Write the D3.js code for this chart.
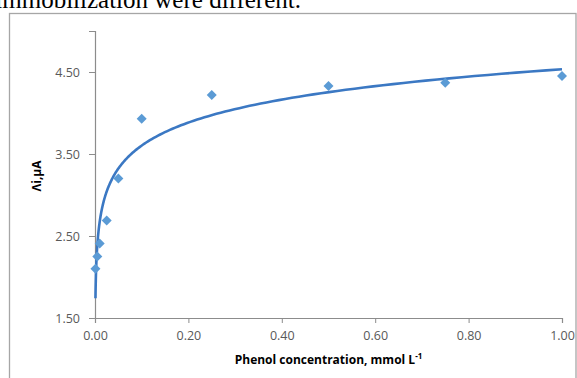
<!DOCTYPE html>
<html>
<head>
<meta charset="utf-8">
<script src="https://cdn.jsdelivr.net/npm/d3@7"></script>
<style>
  body { margin: 0; background: #fff; }
  svg { display: block; }
  .tick text { font-family: "Open Sans", sans-serif; font-size: 12.5px; fill: #595959; }
</style>
</head>
<body>
<div class="chart"></div>
<script>
const svgWidth = 577
const svgHeight = 378

// concentration (mmol L-1) and response (uA)
const concentration = [0.001, 0.005, 0.01, 0.025, 0.05, 0.1, 0.25, 0.5, 0.75, 1.0]
const current = [2.10, 2.25, 2.41, 2.69, 3.20, 3.93, 4.22, 4.33, 4.37, 4.45]
const xTicks = [0, 0.2, 0.4, 0.6, 0.8, 1.0]
const yTicks = [1.5, 2.5, 3.5, 4.5]

let plot = { left: 95, right: 562, top: 31, bottom: 318 }

let svg = d3.select(".chart")
  .append("svg")
  .attr("width", svgWidth)
  .attr("height", svgHeight)

// cut-off line of body text above the figure
let caption = svg.append("text")
  .attr("y", 8)
  .attr("font-family", "Liberation Serif, serif")
  .attr("font-size", 25)
  .attr("fill", "#000")
  .text("immobilization were different.")
caption.attr("x", 301 - caption.node().getComputedTextLength())

// chart frame
svg.append("rect")
  .attr("x", 9.5)
  .attr("y", 13.5)
  .attr("width", 566.5)
  .attr("height", 400)
  .attr("fill", "none")
  .attr("stroke", "#a6a6a6")
  .attr("stroke-width", 1.3)

let x = d3.scaleLinear().domain([0, 1]).range([plot.left, plot.right])
let y = d3.scaleLinear().domain([1.5, 5]).range([plot.bottom, plot.top])

let xAxis = svg.append("g")
  .attr("transform", `translate(0, ${plot.bottom})`)
  .call(d3.axisBottom(x).tickValues(xTicks).tickFormat(d3.format(".2f")).tickSize(5).tickPadding(8))

let yAxis = svg.append("g")
  .attr("transform", `translate(${plot.left}, 0)`)
  .call(d3.axisLeft(y).tickValues(yTicks).tickFormat(d3.format(".2f")).tickSize(6).tickPadding(9))

svg.selectAll(".domain").attr("stroke", "#8c8c8c").attr("stroke-width", 1.2)
svg.selectAll(".tick line").attr("stroke", "#8c8c8c")

// logarithmic trend line, least squares fit of y = a ln(x) + b
let lx = concentration.map(Math.log)
let mx = d3.mean(lx)
let my = d3.mean(current)
let a = d3.sum(lx, (v, i) => (v - mx) * (current[i] - my)) / d3.sum(lx, v => (v - mx) * (v - mx))
let b = my - a * mx
let trend = d3.range(0, 201).map(i => {
  let c = Math.exp(Math.log(concentration[0]) + i / 200 * (0 - Math.log(concentration[0])))
  return [c, a * Math.log(c) + b]
})

svg.append("path")
  .datum(trend)
  .attr("fill", "none")
  .attr("stroke", "#3b78c3")
  .attr("stroke-width", 2.6)
  .attr("d", d3.line().x(d => x(d[0])).y(d => y(d[1])))

svg.selectAll(".pt")
  .data(concentration)
  .enter()
  .append("path")
  .classed("pt", true)
  .attr("transform", (d, i) => `translate(${x(d)}, ${y(current[i])})`)
  .attr("d", "M0,-5L5,0L0,5L-5,0Z")
  .attr("fill", "#5b9bd5")

svg.append("text")
  .attr("x", (plot.left + plot.right) / 2)
  .attr("y", 364)
  .attr("text-anchor", "middle")
  .attr("font-family", "Open Sans, sans-serif")
  .attr("font-weight", "bold")
  .attr("font-size", 12)
  .attr("fill", "#000")
  .text("Phenol concentration, mmol L")
  .append("tspan")
  .attr("dy", -5)
  .attr("font-size", 8)
  .text("-1")

svg.append("text")
  .attr("transform", "translate(41, 176) rotate(-90)")
  .attr("text-anchor", "middle")
  .attr("font-family", "Open Sans, sans-serif")
  .attr("font-weight", "bold")
  .attr("font-size", 12)
  .attr("fill", "#000")
  .text("Λi,μA")
</script>
</body>
</html>
